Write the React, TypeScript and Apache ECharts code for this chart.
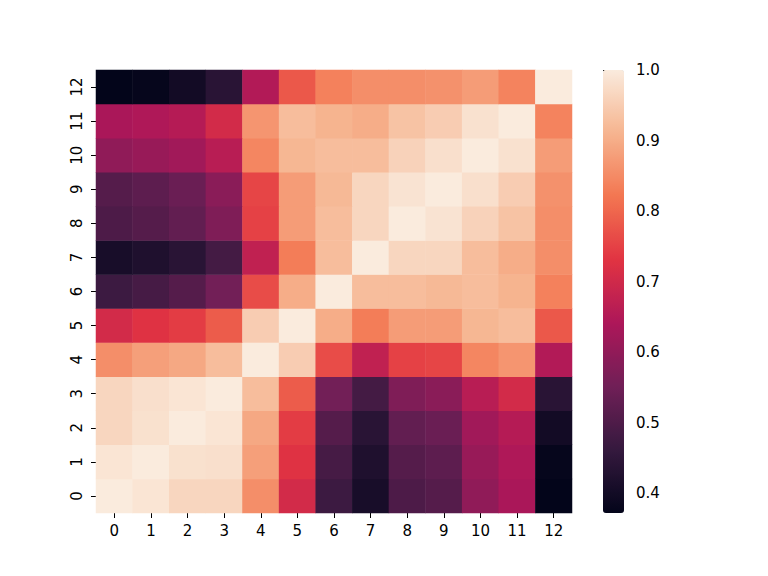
import React, { useEffect, useRef } from "react";
import * as echarts from "echarts";

const xCategories = ["0", "1", "2", "3", "4", "5", "6", "7", "8", "9", "10", "11", "12"];
const yCategories = ["0", "1", "2", "3", "4", "5", "6", "7", "8", "9", "10", "11", "12"];

const row0 = [1, 0.99, 0.965, 0.965, 0.855, 0.705, 0.472, 0.41, 0.498, 0.51, 0.598, 0.636, 0.372];
const row1 = [0.99, 1, 0.983, 0.98, 0.88, 0.727, 0.488, 0.422, 0.51, 0.523, 0.61, 0.645, 0.378];
const row2 = [0.965, 0.983, 1, 0.99, 0.893, 0.743, 0.51, 0.44, 0.53, 0.542, 0.623, 0.655, 0.4];
const row3 = [0.965, 0.98, 0.99, 1, 0.925, 0.786, 0.554, 0.485, 0.573, 0.59, 0.66, 0.705, 0.44];
const row4 = [0.855, 0.88, 0.893, 0.925, 1, 0.95, 0.764, 0.674, 0.749, 0.755, 0.843, 0.866, 0.65];
const row5 = [0.705, 0.727, 0.743, 0.786, 0.95, 1, 0.9, 0.83, 0.875, 0.875, 0.915, 0.925, 0.78];
const row6 = [0.472, 0.488, 0.51, 0.554, 0.764, 0.9, 1, 0.925, 0.925, 0.918, 0.925, 0.91, 0.837];
const row7 = [0.41, 0.422, 0.44, 0.485, 0.674, 0.83, 0.925, 1, 0.965, 0.965, 0.925, 0.9, 0.855];
const row8 = [0.498, 0.51, 0.53, 0.573, 0.749, 0.875, 0.925, 0.965, 1, 0.987, 0.96, 0.935, 0.855];
const row9 = [0.51, 0.523, 0.542, 0.59, 0.755, 0.875, 0.918, 0.965, 0.987, 1, 0.98, 0.95, 0.86];
const row10 = [0.598, 0.61, 0.623, 0.66, 0.843, 0.915, 0.925, 0.925, 0.96, 0.98, 1, 0.984, 0.875];
const row11 = [0.636, 0.645, 0.655, 0.705, 0.866, 0.925, 0.91, 0.9, 0.935, 0.95, 0.984, 1, 0.84];
const row12 = [0.372, 0.378, 0.4, 0.44, 0.65, 0.78, 0.837, 0.855, 0.855, 0.86, 0.875, 0.84, 1];

const rows = [row0, row1, row2, row3, row4, row5, row6, row7, row8, row9, row10, row11, row12];

const colorbarTicks = [0.4, 0.5, 0.6, 0.7, 0.8, 0.9, 1.0];
const vMin = 0.372;
const vMax = 1.0;

const rocket = ["#03051a", "#35193e", "#701f57", "#ad1759", "#e13342", "#f37651", "#f6b48f", "#faebdd"];

export default function App() {
  const ref = useRef<HTMLDivElement>(null);

  useEffect(() => {
    if (!ref.current) return;
    const chart = echarts.init(ref.current, null, { renderer: "svg" });
    const data: [number, number, number][] = [];
    rows.forEach((r, yi) => r.forEach((v, xi) => data.push([xi, yi, v])));

    const font = "DejaVu Sans";
    chart.setOption({
      animation: false,
      backgroundColor: "#ffffff",
      textStyle: { fontFamily: font },
      grid: [
        { left: 96, top: 70, width: 476, height: 443 },
        { left: 603, top: 70, width: 21, height: 443 },
      ],
      xAxis: [
        {
          type: "category",
          data: xCategories,
          gridIndex: 0,
          axisLine: { show: false },
          axisTick: { show: true, alignWithLabel: true, length: 5, lineStyle: { color: "#000" } },
          axisLabel: { color: "#000", fontSize: 15, fontFamily: font, margin: 10 },
          splitLine: { show: false },
        },
        { type: "value", gridIndex: 1, show: false, min: 0, max: 1 },
      ],
      yAxis: [
        {
          type: "category",
          data: yCategories,
          gridIndex: 0,
          axisLine: { show: false },
          axisTick: { show: true, alignWithLabel: true, length: 5, lineStyle: { color: "#000" } },
          axisLabel: { color: "#000", fontSize: 15, fontFamily: font, rotate: 90, margin: 12 },
          splitLine: { show: false },
        },
        {
          type: "value",
          gridIndex: 1,
          position: "right",
          min: vMin,
          max: vMax,
          axisLine: { show: false },
          axisTick: { show: true, length: 6, lineStyle: { color: "#000" }, customValues: colorbarTicks },
          axisLabel: {
            color: "#000",
            fontSize: 15,
            fontFamily: font,
            margin: 12,
            customValues: colorbarTicks,
            formatter: (v: number) => v.toFixed(1),
          },
          splitLine: { show: false },
        },
      ],
      visualMap: {
        type: "continuous",
        min: vMin,
        max: vMax,
        seriesIndex: 0,
        calculable: false,
        show: true,
        orient: "vertical",
        left: 603,
        top: 70,
        itemWidth: 21,
        itemHeight: 443,
        padding: 0,
        text: null,
        showLabel: false,
        inRange: { color: rocket },
      },
      series: [
        {
          type: "heatmap",
          xAxisIndex: 0,
          yAxisIndex: 0,
          data,
          itemStyle: { borderWidth: 0 },
          emphasis: { disabled: true },
        },
      ],
    });
    return () => chart.dispose();
  }, []);

  return (
    <div
      ref={ref}
      style={{ position: "absolute", left: 0, top: 0, width: 768, height: 576 }}
    />
  );
}
